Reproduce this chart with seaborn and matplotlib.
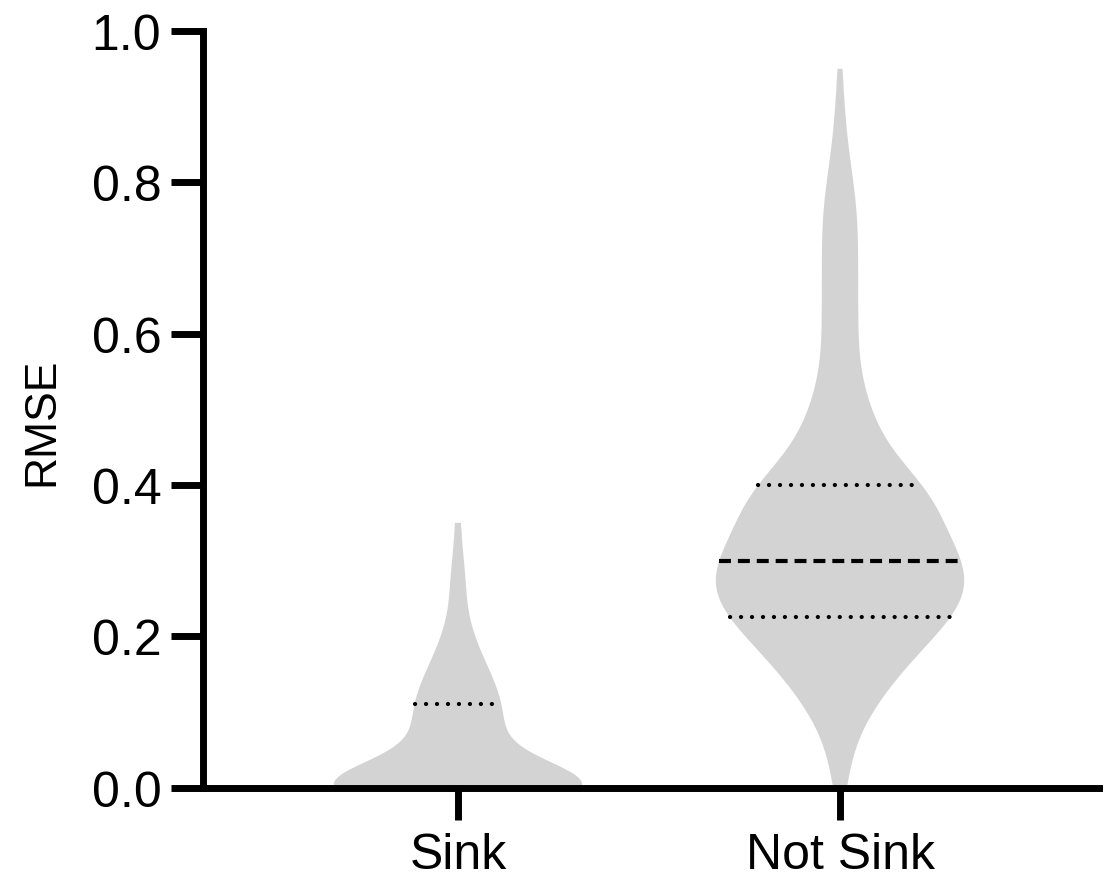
import numpy as np
import pandas as pd
import matplotlib
matplotlib.use("Agg")
import matplotlib.pyplot as plt
import seaborn as sns

# categories in axis order
groups = ["Sink", "Not Sink"]

# RMSE values, kept as value levels + how many runs sit there
sink_levels = [0.0, 0.02, 0.04, 0.06, 0.08, 0.095, 0.11, 0.13, 0.15, 0.17,
               0.19, 0.21, 0.24, 0.26, 0.28, 0.30, 0.35]
sink_counts = [52, 4, 4, 5, 5, 4, 5, 5, 4, 3, 2, 2, 1, 1, 1, 1, 1]

not_sink_levels = [0.0, 0.025, 0.05, 0.075, 0.1, 0.125, 0.15, 0.175, 0.2, 0.225,
                   0.25, 0.275, 0.3, 0.325, 0.35, 0.375, 0.4, 0.425, 0.45, 0.475,
                   0.5, 0.525, 0.55, 0.575, 0.6, 0.625, 0.65, 0.675, 0.7, 0.725,
                   0.75, 0.775, 0.8, 0.825, 0.85, 0.875, 0.9, 0.95]
not_sink_counts = [2, 1, 2, 3, 5, 7, 10, 12, 16, 19, 22, 23, 21, 18, 16, 17, 17, 8,
                   8, 6, 5, 4, 3, 3, 3, 3, 3, 3, 3, 3, 3, 3, 2, 2, 1, 1, 1, 1]

# kernel bandwidth used for each group's violin
bw_adjusts = [1.0, 0.7]

y_ticks = [0.0, 0.2, 0.4, 0.6, 0.8, 1.0]

# long-form table for seaborn
df = pd.DataFrame({
    "group": ["Sink"] * sum(sink_counts) + ["Not Sink"] * sum(not_sink_counts),
    "rmse": np.concatenate([np.repeat(sink_levels, sink_counts),
                            np.repeat(not_sink_levels, not_sink_counts)]),
})

sns.set_style("ticks")
plt.rcParams["font.family"] = ["Liberation Sans", "DejaVu Sans"]
plt.rcParams["lines.scale_dashes"] = False

fig, ax = plt.subplots(figsize=(11.06, 8.79), dpi=100)
fig.subplots_adjust(left=0.1835, right=0.9937, bottom=0.1027, top=0.9636)

for name, bw in zip(groups, bw_adjusts):
    sns.violinplot(data=df[df["group"] == name], x="group", y="rmse", order=groups,
                   cut=0, density_norm="width", width=0.65, bw_adjust=bw,
                   inner="quart", color="#d3d3d3", linewidth=0,
                   inner_kws=dict(color="black", linewidth=3), ax=ax)

for coll in ax.collections:
    coll.set_edgecolor("none")

# Prism style: dashed median, dotted quartiles (lines come as Q1, median, Q3)
for i, line in enumerate(ax.lines):
    line.set_color("black")
    line.set_linewidth(3)
    if i % 3 == 1:
        line.set_dashes([8.6, 5.0])
        line.set_dash_capstyle("butt")
    else:
        line.set_dashes([0.1, 7.8])
        line.set_dash_capstyle("round")

ax.set_xlim(-0.6675, 1.678)
ax.set_ylim(0, 1.0)
ax.set_yticks(y_ticks)
ax.set_yticklabels([f"{t:.1f}" for t in y_ticks])
ax.set_xlabel("")
ax.set_ylabel("RMSE", fontsize=32, color="black")
ax.yaxis.set_label_coords(-0.157, 0.4846)

sns.despine(ax=ax)
for side in ["left", "bottom"]:
    ax.spines[side].set_linewidth(5)
    ax.spines[side].set_color("black")

ax.tick_params(axis="both", length=23, width=5, color="black", labelsize=36,
               labelcolor="black")
ax.tick_params(axis="y", pad=7)
ax.tick_params(axis="x", pad=9)

fig.savefig("out.png", dpi=100)
